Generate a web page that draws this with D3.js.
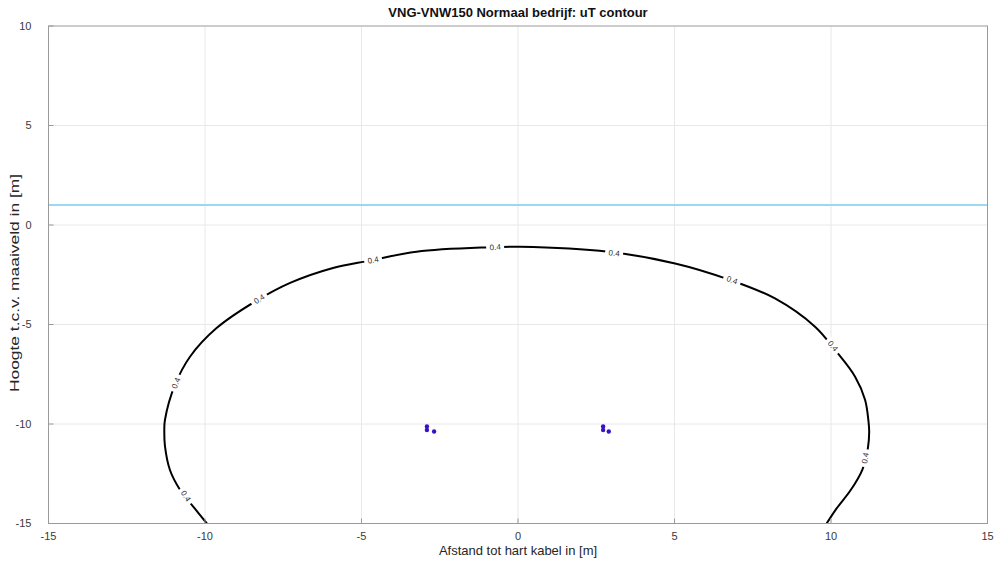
<!DOCTYPE html>
<html><head><meta charset="utf-8">
<script src="https://cdn.jsdelivr.net/npm/d3@7"></script>
<style>body{margin:0;background:#fff}svg{display:block}text{font-family:"Liberation Sans",Arial,sans-serif}</style>
</head><body><svg id="c" width="999" height="561"></svg>
<script>
const title = "VNG-VNW150 Normaal bedrijf: uT contour";
const xLabel = "Afstand tot hart kabel in [m]";
const yLabel = "Hoogte t.c.v. maaiveld in [m]";
const xTicks = [-15,-10,-5,0,5,10,15];
const yTicks = [-15,-10,-5,0,5,10];
const groundLevel = 1;
const contourLevel = "0.4";
const contourX = [-9.94,-10.37,-10.8,-11.12,-11.28,-11.3,-11.28,-10.96,-10.48,-9.63,-8.35,-7.28,-5.91,-4.73,-3.24,-0.89,0.06,2.89,5.02,6.72,8.21,9.49,10.13,10.77,11.09,11.2,11.22,11.18,11.0,10.63,10.18,9.86];
const contourY = [-15,-14.16,-13.3,-12.31,-11.1,-10.3,-9.8,-8.04,-6.62,-5.18,-3.8,-2.91,-2.16,-1.79,-1.34,-1.12,-1.09,-1.34,-1.93,-2.73,-3.69,-5.11,-6.28,-7.62,-8.79,-9.9,-10.4,-11.2,-12.3,-13.32,-14.24,-15];
const labelX = [-0.73,-4.63,-8.27,-10.93,-10.61,3.07,6.84,10.06,11.09];
const labelY = [-1.11,-1.76,-3.72,-7.94,-13.62,-1.41,-2.76,-6.08,-11.71];
const cableX = [-2.91,-2.91,-2.68,2.72,2.72,2.9];
const cableY = [-10.12,-10.3,-10.38,-10.12,-10.3,-10.38];

const svg = d3.select("#c");
const L=48.5,R=987.5,T=26,B=523.5;
const x = d3.scaleLinear().domain([-15,15]).range([L,R]);
const y = d3.scaleLinear().domain([-15,10]).range([B,T]);

// grid
svg.append("g").selectAll("line").data(xTicks.slice(1,-1)).join("line")
 .attr("x1",d=>x(d)).attr("x2",d=>x(d)).attr("y1",T).attr("y2",B).attr("stroke","#e8e8e8");
svg.append("g").selectAll("line").data(yTicks.slice(1,-1)).join("line")
 .attr("y1",d=>y(d)).attr("y2",d=>y(d)).attr("x1",L).attr("x2",R).attr("stroke","#e8e8e8");

svg.append("clipPath").attr("id","pc").append("rect").attr("x",L).attr("y",T).attr("width",R-L).attr("height",B-T);
const plot = svg.append("g").attr("clip-path","url(#pc)");

// ground line
plot.append("line").attr("x1",L).attr("x2",R).attr("y1",y(groundLevel)).attr("y2",y(groundLevel))
 .attr("stroke","#9bd8f2").attr("stroke-width",2);

// contour
const pts = contourX.map((d,i)=>[x(d),y(contourY[i])]);
plot.append("path").attr("d",d3.line().curve(d3.curveCatmullRom.alpha(0.5))(pts))
 .attr("fill","none").attr("stroke","#000").attr("stroke-width",2);

// labels
labelX.forEach((lx,i)=>{
  const px=x(lx), py=y(labelY[i]);
  let bi=0,bd=1e9;
  pts.forEach((p,j)=>{const dd=(p[0]-px)**2+(p[1]-py)**2; if(dd<bd){bd=dd;bi=j;}});
  const a=pts[Math.max(0,bi-1)], b=pts[Math.min(pts.length-1,bi+1)];
  let ang=Math.atan2(b[1]-a[1],b[0]-a[0])*180/Math.PI;
  if(ang>90) ang-=180; if(ang<-90) ang+=180;
  const g=plot.append("g").attr("transform",`translate(${px},${py}) rotate(${ang})`);
  g.append("rect").attr("x",-9).attr("y",-4).attr("width",18).attr("height",8).attr("fill","#fff");
  g.append("text").attr("text-anchor","middle").attr("dy","0.35em").attr("font-size",8).attr("fill","#333").text(contourLevel);
});

// cables
plot.append("g").selectAll("circle").data(cableX).join("circle")
 .attr("cx",d=>x(d)).attr("cy",(d,i)=>y(cableY[i])).attr("r",2.2).attr("fill","#3a10c8");

// box
svg.append("rect").attr("x",L).attr("y",T).attr("width",R-L).attr("height",B-T)
 .attr("fill","none").attr("stroke","#9a9a9a").attr("stroke-width",1);
// ticks inward
svg.append("g").selectAll("line").data(xTicks).join("line")
 .attr("x1",d=>x(d)).attr("x2",d=>x(d)).attr("y1",B).attr("y2",B-5).attr("stroke","#9a9a9a");
svg.append("g").selectAll("line").data(yTicks).join("line")
 .attr("y1",d=>y(d)).attr("y2",d=>y(d)).attr("x1",L).attr("x2",L+5).attr("stroke","#9a9a9a");

svg.append("g").selectAll("text").data(xTicks).join("text")
 .attr("x",d=>x(d)).attr("y",B+16).attr("text-anchor","middle").attr("font-size",11).attr("fill","#3a3a3a").text(d=>d);
svg.append("g").selectAll("text").data(yTicks).join("text")
 .attr("x",L-17).attr("y",d=>y(d)).attr("dy","0.35em").attr("text-anchor","end").attr("font-size",11).attr("fill","#3a3a3a").text(d=>d);

svg.append("text").attr("x",(L+R)/2).attr("y",555).attr("text-anchor","middle").attr("font-size",13).attr("fill","#262626").text(xLabel);
svg.append("text").attr("transform",`translate(19,283) rotate(-90) scale(1.45,1)`).attr("text-anchor","middle").attr("font-size",12).attr("fill","#262626").text(yLabel);
svg.append("text").attr("x",(L+R)/2).attr("y",17).attr("text-anchor","middle").attr("font-size",13).attr("font-weight","bold").attr("fill","#111").text(title);
</script></body></html>
